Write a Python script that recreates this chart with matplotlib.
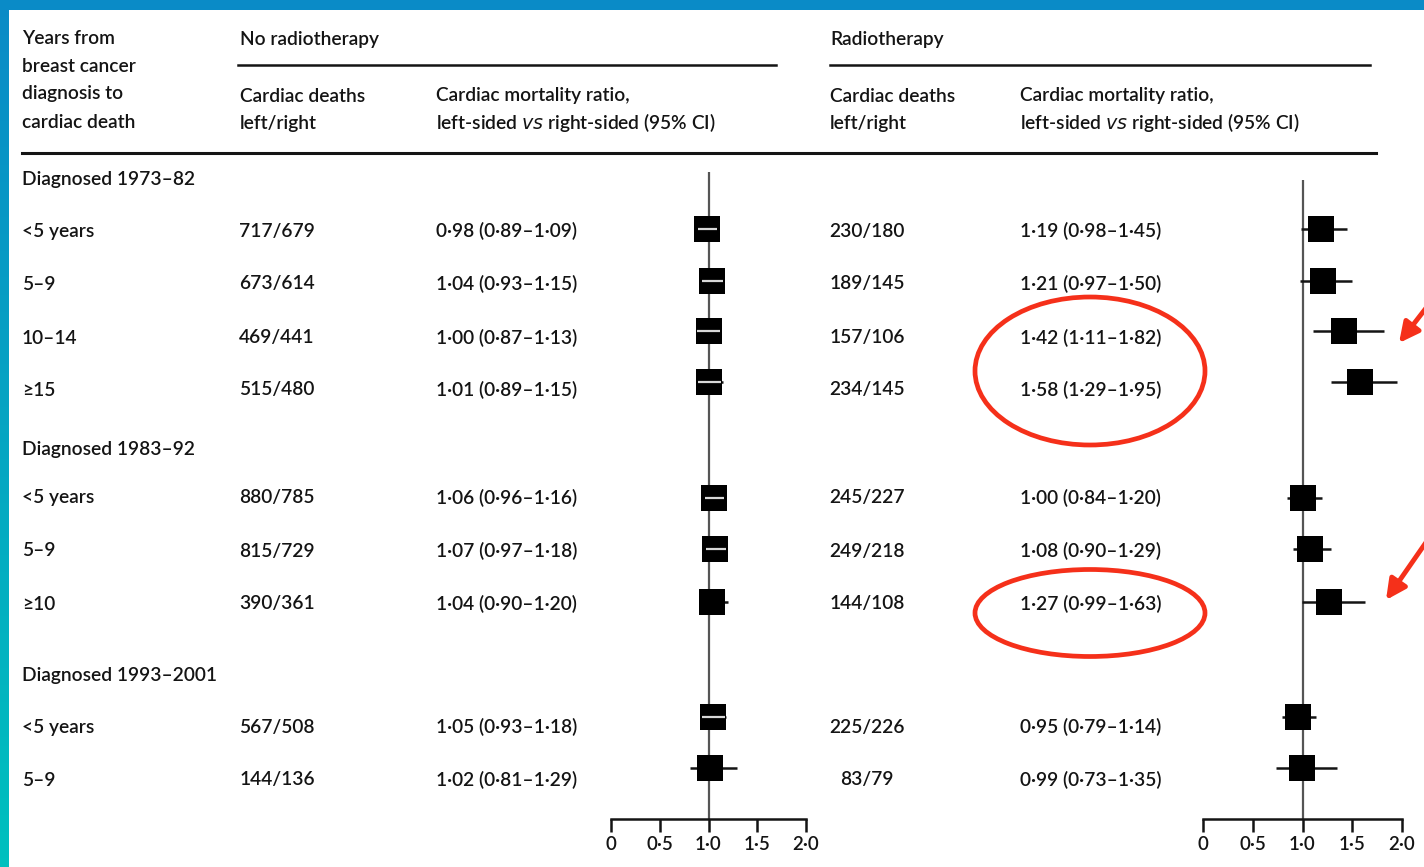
import matplotlib
matplotlib.use("Agg")
import matplotlib.pyplot as plt
import numpy as np
from matplotlib.patches import Ellipse

plt.rcParams['font.family'] = ['Lato', 'DejaVu Sans']

# ---- data ----
groups = ["Diagnosed 1973\u201382", "Diagnosed 1983\u201392", "Diagnosed 1993\u20132001"]
periods = ["<5 years", "5\u20139", "10\u201314", "\u226515",
           "<5 years", "5\u20139", "\u226510",
           "<5 years", "5\u20139"]

no_rt_deaths = ["717/679", "673/614", "469/441", "515/480",
                "880/785", "815/729", "390/361", "567/508", "144/136"]
no_rt_ratio = [0.98, 1.04, 1.00, 1.01, 1.06, 1.07, 1.04, 1.05, 1.02]
no_rt_lo = [0.89, 0.93, 0.87, 0.89, 0.96, 0.97, 0.90, 0.93, 0.81]
no_rt_hi = [1.09, 1.15, 1.13, 1.15, 1.16, 1.18, 1.20, 1.18, 1.29]

rt_deaths = ["230/180", "189/145", "157/106", "234/145",
             "245/227", "249/218", "144/108", "225/226", "83/79"]
rt_ratio = [1.19, 1.21, 1.42, 1.58, 1.00, 1.08, 1.27, 0.95, 0.99]
rt_lo = [0.98, 0.97, 1.11, 1.29, 0.84, 0.90, 0.99, 0.79, 0.73]
rt_hi = [1.45, 1.50, 1.82, 1.95, 1.20, 1.29, 1.63, 1.14, 1.35]

ticks = [0, 0.5, 1.0, 1.5, 2.0]
tick_labels = ["0", "0\u00b75", "1\u00b70", "1\u00b75", "2\u00b70"]

# ---- layout (pixel rows) ----
W, H = 1424, 867
group_y = [180, 449, 675]
text_y = [231, 284, 338, 390, 498, 551, 604, 727, 780]
mark_y = [229, 281, 331, 382, 498, 549, 602, 717, 768]
axis_y = 819
fs = 13.8
fw = "semibold"
ink = "#141414"


def fmt(r, lo, hi):
    s = "%.2f (%.2f\u2013%.2f)" % (r, lo, hi)
    return s.replace(".", "\u00b7")


def txt(x, y, s, **kw):
    bg.text(x, y, s, fontsize=fs, fontweight=fw, va="center", color=ink, **kw)


fig = plt.figure(figsize=(W / 100, H / 100), dpi=100)
bg = fig.add_axes([0, 0, 1, 1])
bg.set_xlim(0, W)
bg.set_ylim(H, 0)
bg.axis("off")

# blue frame (top bar + left gradient bar)
bg.fill_between([0, W], 0, 10, color="#0a8bc7", lw=0)
grad = np.linspace(0, 1, 100)[:, None]
c0 = np.array([10, 139, 199]) / 255
c1 = np.array([0, 192, 190]) / 255
img = (c0[None, None, :] * (1 - grad[..., None]) + c1[None, None, :] * grad[..., None])
bg.imshow(img, extent=[0, 9, H, 0], aspect="auto")
bg.set_xlim(0, W)
bg.set_ylim(H, 0)

# header
for i, line in enumerate(["Years from", "breast cancer", "diagnosis to", "cardiac death"]):
    txt(22, 38 + i * 28, line)
txt(240, 40, "No radiotherapy")
txt(830, 40, "Radiotherapy")
bg.plot([238, 776], [65, 65], color=ink, lw=1.8)
bg.plot([830, 1370], [65, 65], color=ink, lw=1.8)
for x0, x1 in [(240, 436), (830, 1020)]:
    txt(x0, 96, "Cardiac deaths")
    txt(x0, 123, "left/right")
    txt(x1, 96, "Cardiac mortality ratio,")
    txt(x1, 123, "left-sided $\\it{vs}$ right-sided (95% CI)")
bg.plot([22, 1376], [153, 153], color=ink, lw=2.2)

# table body
for g, y in zip(groups, group_y):
    txt(22, y, g)
for i, y in enumerate(text_y):
    txt(22, y, periods[i])
    txt(277, y, no_rt_deaths[i], ha="center")
    txt(436, y, fmt(no_rt_ratio[i], no_rt_lo[i], no_rt_hi[i]))
    txt(867, y, rt_deaths[i], ha="center")
    txt(1020, y, fmt(rt_ratio[i], rt_lo[i], rt_hi[i]))

# red highlights
red = "#f5301a"
bg.add_patch(Ellipse((1090, 371), 230, 148, fill=False, ec=red, lw=3.4))
bg.add_patch(Ellipse((1090, 613), 230, 87, fill=False, ec=red, lw=3.4))
for tail, tip in [((1440, 290), (1399, 343)), ((1445, 515), (1386, 600))]:
    bg.annotate("", xy=tip, xytext=tail,
                arrowprops=dict(arrowstyle="-|>,head_length=1.2,head_width=0.6",
                                color=red, lw=3.5, shrinkA=0, shrinkB=0),
                annotation_clip=False)


def forest(x_left, x_right, top, ratio, lo, hi, inner):
    ax = fig.add_axes([x_left / W, (H - axis_y) / H,
                       (x_right - x_left) / W, (axis_y - top) / H])
    ax.set_xlim(0, 2)
    ax.set_ylim(axis_y, top)
    ax.patch.set_alpha(0)
    for s in ["top", "left", "right"]:
        ax.spines[s].set_visible(False)
    ax.spines["bottom"].set_linewidth(1.8)
    ax.spines["bottom"].set_color(ink)
    ax.set_yticks([])
    ax.set_xticks(ticks)
    ax.set_xticklabels(tick_labels, fontsize=13.5, fontweight=fw, color=ink)
    ax.tick_params(axis="x", direction="out", length=9, width=1.8, color=ink, pad=3)
    ax.axvline(1.0, color="#555555", lw=1.6, zorder=1)
    sq = 27  # square side, px
    half = (sq / 2) / ((x_right - x_left) / 2)
    ax.hlines(mark_y, lo, hi, color=ink, lw=1.8, zorder=2)
    ax.scatter(ratio, mark_y, marker="s", s=(sq * 0.72) ** 2, color="black",
               zorder=3, lw=0)
    if inner:
        for r, a, b, y in zip(ratio, lo, hi, mark_y):
            if a >= r - half - 0.01 and b <= r + half + 0.01:
                ax.hlines(y, max(a, r - half + 0.02), min(b, r + half - 0.02),
                          color="#d8d8d8", lw=1.6, zorder=4)
    return ax


forest(611, 806, 172, no_rt_ratio, no_rt_lo, no_rt_hi, True)
forest(1203, 1402, 180, rt_ratio, rt_lo, rt_hi, False)

fig.savefig("out.png", dpi=100)
